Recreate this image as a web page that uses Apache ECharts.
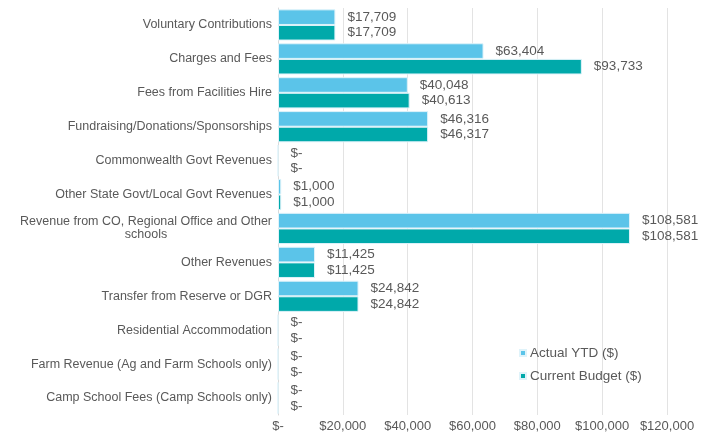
<!DOCTYPE html>
<html>
<head>
<meta charset="utf-8">
<script src="https://cdn.jsdelivr.net/npm/echarts@6/dist/echarts.min.js"></script>
<style>
  html, body { margin: 0; padding: 0; background: #fff; }
  #chart { width: 711px; height: 435px; }
</style>
</head>
<body>
<div id="chart"></div>
<script>
// categories, top to bottom
var categories = [
  'Voluntary Contributions',
  'Charges and Fees',
  'Fees from Facilities Hire',
  'Fundraising/Donations/Sponsorships',
  'Commonwealth Govt Revenues',
  'Other State Govt/Local Govt Revenues',
  'Revenue from CO, Regional Office and Other\nschools',
  'Other Revenues',
  'Transfer from Reserve or DGR',
  'Residential Accommodation',
  'Farm Revenue (Ag and Farm Schools only)',
  'Camp School Fees (Camp Schools only)'
]
var actualYTD = [17709, 63404, 40048, 46316, 0, 1000, 108581, 11425, 24842, 0, 0, 0]
var currentBudget = [17709, 93733, 40613, 46317, 0, 1000, 108581, 11425, 24842, 0, 0, 0]
var seriesNames = ['Actual YTD ($)', 'Current Budget ($)']

function money (v) {
  if (!v) return '$-'
  return '$' + Number(v).toLocaleString('en-US')
}

var textGray = '#595959'
var font = 'Liberation Sans'
var chart = echarts.init(document.getElementById('chart'))

function valueLabel () {
  return {
    show: true,
    position: 'right',
    distance: 12,
    color: textGray,
    fontSize: 13.5,
    fontFamily: font,
    formatter: function (p) { return money(p.value) }
  }
}

chart.setOption({
  animation: false,
  color: ['#5bc4e9', '#00a9aa'],
  grid: { left: 278, right: 44, top: 8, bottom: 20 },
  legend: {
    orient: 'vertical',
    left: 514,
    top: 341,
    icon: 'rect',
    itemWidth: 6,
    itemHeight: 6,
    itemGap: 9,
    textStyle: { color: textGray, fontSize: 13.5, fontFamily: font, padding: [0, 0, 0, -1] },
    data: seriesNames
  },
  xAxis: {
    type: 'value',
    min: 0,
    max: 120000,
    interval: 20000,
    axisLine: { show: false },
    axisTick: { show: false },
    splitLine: { lineStyle: { color: '#e3e3e3' } },
    axisLabel: {
      color: textGray,
      fontSize: 13,
      fontFamily: font,
      margin: 5,
      formatter: money
    }
  },
  yAxis: {
    type: 'category',
    inverse: true,
    data: categories,
    axisLine: { show: true, lineStyle: { color: '#d9d9d9' } },
    axisTick: { show: false },
    axisLabel: {
      color: textGray,
      fontSize: 12.5,
      fontFamily: font,
      margin: 6,
      formatter: function (v) {
        if (v.indexOf('\n') < 0) return v
        // wrapped label: lines centred inside the block like the original
        return v.split('\n').map(function (s) { return '{c|' + s + '}' }).join('\n')
      },
      rich: {
        c: { align: 'center', color: textGray, fontSize: 12.5, fontFamily: font, lineHeight: 13 }
      }
    }
  },
  series: [
    {
      name: seriesNames[0],
      type: 'bar',
      data: actualYTD,
      barGap: '0%',
      barCategoryGap: '8%',
      itemStyle: { borderColor: '#dff3fa', borderWidth: 1 },
      label: valueLabel()
    },
    {
      name: seriesNames[1],
      type: 'bar',
      data: currentBudget,
      barGap: '0%',
      barCategoryGap: '8%',
      itemStyle: { borderColor: '#dff3fa', borderWidth: 1 },
      label: valueLabel()
    }
  ]
})
</script>
</body>
</html>
